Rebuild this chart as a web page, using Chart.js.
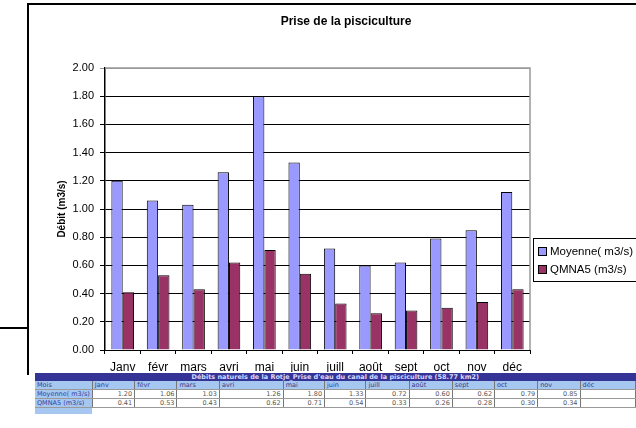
<!DOCTYPE html>
<html>
<head>
<meta charset="utf-8">
<script src="https://cdn.jsdelivr.net/npm/chart.js@4.4.1/dist/chart.umd.min.js"></script>
<style>
  html, body { margin: 0; padding: 0; background: #fff; overflow: hidden; }
  body { width: 636px; height: 428px; position: relative; font-family: "Liberation Sans", Arial, sans-serif; }
  #frame { position: absolute; left: 27px; top: 3px; width: 640px; height: 372px;
           border-left: 2px solid #000; border-top: 2px solid #000; box-sizing: border-box; }
  #leftLine { position: absolute; left: 0; top: 327px; width: 28px; height: 2px; background: #000; }
  #wrap { position: absolute; left: 44px; top: 4px; width: 592px; height: 368px; }
  #legend { position: absolute; left: 533px; top: 238px; width: 120px; height: 42px;
            border: 1px solid #000; font-size: 11.5px; }
  #legend div { position: absolute; left: 4px; white-space: nowrap; }
  #legend span { display: inline-block; width: 7px; height: 7px; border: 1px solid #000;
                 margin-right: 3px; vertical-align: -1px; }
  table { position: absolute; left: 35px; top: 373px; border-collapse: collapse;
          font-size: 6.5px; font-family: "DejaVu Sans", sans-serif; table-layout: fixed; }
  td { height: 8px; padding: 0 2px; border-right: 1px solid #777; border-bottom: 1px solid #999;
       overflow: hidden; white-space: nowrap; line-height: 8px; }
  .hd td { background: #343496; color: #d8d8ff; text-align: center; border: none; font-weight: bold; }
  .mo td { background: #a6c8f0; color: #3a3a8a; }
  .lab { background: #a6c8f0; color: #3040a0; }
  .val { text-align: right; color: #555; background: #fff; }
</style>
</head>
<body>
<div id="frame"></div>
<div id="leftLine"></div>
<div id="wrap"><canvas id="chart" width="592" height="368"></canvas></div>
<div id="legend">
  <div style="top:6px"><span style="background:#9999FF"></span>Moyenne( m3/s)</div>
  <div style="top:24px"><span style="background:#993366"></span>QMNA5 (m3/s)</div>
</div>
<table id="tbl"></table>
<script>
// Monthly flows at the fish farm intake
const months = ['Janv', 'févr', 'mars', 'avri', 'mai', 'juin', 'juill', 'août', 'sept', 'oct', 'nov', 'déc'];
const moyenne = [1.20, 1.06, 1.03, 1.26, 1.80, 1.33, 0.72, 0.60, 0.62, 0.79, 0.85, 1.12];
const qmna5 = [0.41, 0.53, 0.43, 0.62, 0.71, 0.54, 0.33, 0.26, 0.28, 0.30, 0.34, 0.43];
const chartTitle = 'Prise de la pisciculture';
const tableTitle = "Débits naturels de la Rotje_Prise d'eau du canal de la pisciculture (58.77 km2)";
const colWidths = [56, 45, 45, 45, 69, 44, 44, 46, 46, 45, 46, 45, 60];

// Build the data table under the chart
function buildTable() {
    const tbl = document.getElementById('tbl');
    let html = '<colgroup>' + colWidths.map(w => `<col style="width:${w}px">`).join('') + '</colgroup>';
    html += `<tr class="hd"><td colspan="13">${tableTitle}</td></tr>`;
    html += '<tr class="mo"><td>Mois</td>' + months.map(m => `<td>${m}</td>`).join('') + '</tr>';
    html += '<tr><td class="lab">Moyenne( m3/s)</td>' +
        moyenne.map((v, i) => `<td class="val">${i < 11 ? v.toFixed(2) : ''}</td>`).join('') + '</tr>';
    html += '<tr><td class="lab">QMNA5 (m3/s)</td>' +
        qmna5.map((v, i) => `<td class="val">${i < 11 ? v.toFixed(2) : ''}</td>`).join('') + '</tr>';
    html += '<tr><td class="lab" style="border:none;height:6px"></td></tr>';
    tbl.innerHTML = html;
}
buildTable();

// Gray frame around the plot area + the chart title (centred on the whole chart object)
const plotFrame = {
    id: 'plotFrame',
    beforeDatasetsDraw(chart) {
        const a = chart.chartArea;
        const ctx = chart.ctx;
        ctx.save();
        ctx.strokeStyle = '#999';
        ctx.lineWidth = 1.5;
        ctx.beginPath();
        ctx.moveTo(a.left, a.top);
        ctx.lineTo(a.right, a.top);
        ctx.lineTo(a.right, a.bottom);
        ctx.stroke();
        ctx.restore();
    },
    afterDraw(chart) {
        const ctx = chart.ctx;
        ctx.save();
        ctx.font = 'bold 12px "Liberation Sans"';
        ctx.fillStyle = '#000';
        ctx.textAlign = 'center';
        ctx.textBaseline = 'middle';
        ctx.fillText(chartTitle, 302, 18);
        ctx.restore();
    }
};

const ctx = document.getElementById('chart').getContext('2d');
const flowChart = new Chart(ctx, {
    type: 'bar',
    data: {
        labels: months,
        datasets: [{
            label: 'Moyenne( m3/s)',
            data: moyenne,
            backgroundColor: '#9999FF',
            borderColor: '#000',
            borderWidth: 1
        }, {
            label: 'QMNA5 (m3/s)',
            data: qmna5,
            backgroundColor: '#993366',
            borderColor: '#000',
            borderWidth: 1
        }]
    },
    options: {
        responsive: false,
        animation: false,
        layout: { padding: { top: 64, right: 106, left: 0, bottom: 0 } },
        datasets: { bar: { categoryPercentage: 0.64, barPercentage: 1.0 } },
        plugins: {
            legend: { display: false },
            tooltip: { enabled: false },
            title: { display: false }
        },
        scales: {
            x: {
                grid: { offset: true, drawOnChartArea: false, color: '#000', tickLength: 4 },
                border: { color: '#000', width: 1 },
                ticks: { color: '#000', padding: 6, font: { family: 'Liberation Sans', size: 12 } },
                afterFit(scale) { scale.height = 22; }
            },
            y: {
                min: 0,
                max: 2,
                ticks: {
                    stepSize: 0.2,
                    color: '#000',
                    padding: 6,
                    font: { family: 'Liberation Sans', size: 11 },
                    callback: v => v.toFixed(2)
                },
                grid: {
                    color: c => (c.tick && c.tick.value === 2 ? '#999' : '#000'),
                    tickLength: 5
                },
                border: { color: '#000', width: 1.5 },
                title: {
                    display: true,
                    text: 'Débit (m3/s)',
                    color: '#000',
                    font: { family: 'Liberation Sans', size: 10, weight: 'bold' },
                    padding: { top: 12, bottom: 0 }
                },
                afterFit(scale) { scale.width = 61; }
            }
        }
    },
    plugins: [plotFrame]
});
</script>
</body>
</html>
